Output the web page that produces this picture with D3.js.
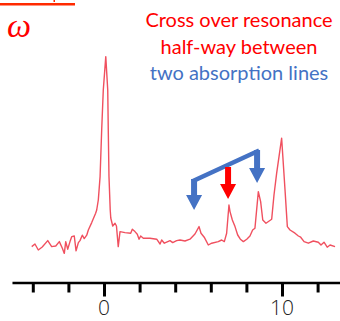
<!DOCTYPE html>
<html lang="en">
<head>
<meta charset="utf-8">
<title>Saturated absorption spectrum</title>
<style>
  * { margin: 0; padding: 0; box-sizing: border-box; }
  body { background: #fff; overflow: hidden; }
  svg { display: block; }
  .note { font-family: Lato, "Open Sans", sans-serif; font-size: 20px; text-anchor: middle; }
  .tick-label { font-family: "Open Sans", sans-serif; font-weight: 300; font-size: 21px; fill: #222; }
</style>
</head>
<body>
<svg id="chart" width="340" height="321"></svg>
<script src="https://cdn.jsdelivr.net/npm/d3@7"></script>
<script>
// spectrum, x in axis units, y in arbitrary intensity
const specX = [-4.06, -3.88, -3.69, -3.47, -3.16, -2.94, -2.71, -2.51, -2.34, -2.23, -2.15, -2.04, -1.91, -1.81,
  -1.67, -1.57, -1.44, -1.35, -1.22, -1.11, -0.97, -0.88, -0.69, -0.47, -0.41, -0.32, -0.22, -0.13, -0.04, 0.10,
  0.21, 0.24, 0.28, 0.35, 0.38, 0.49, 0.62, 0.70, 0.80, 0.90, 1.18, 1.50, 1.59, 1.74, 1.87, 1.97, 2.06, 2.21,
  2.58, 2.96, 3.15, 3.24, 3.39, 3.71, 3.86, 4.08, 4.27, 4.55, 4.83, 5.11, 5.34, 5.45, 5.63, 5.86, 6.05, 6.42,
  6.61, 6.76, 6.89, 7.02, 7.08, 7.21, 7.36, 7.51, 7.66, 7.83, 8.02, 8.20, 8.35, 8.48, 8.67, 8.80, 8.92, 9.10,
  9.42, 9.55, 9.70, 9.98, 10.17, 10.30, 10.45, 10.73, 10.92, 11.05, 11.24, 11.48, 11.76, 12.04, 12.19, 12.36,
  12.54, 12.70, 12.98];
const specY = [1.7, 3.0, 0.0, 1.5, 4.7, 1.7, 2.0, 4.2, 0.9, -1.7, 4.2, 0.4, 4.2, 6.7,
  7.0, -0.4, 3.7, 4.7, 7.4, 5.7, 7.4, 10.0, 13.7, 18.4, 20.0, 25.0, 36.7, 60.0, 80.0, 96.7,
  80.0, 60.0, 36.7, 20.0, 16.0, 12.0, 13.4, 12.0, 1.7, 9.2, 8.7, 8.4, 10.4, 9.2, 7.9, 5.4, 7.0, 5.9,
  5.9, 5.4, 3.0, 5.0, 3.4, 4.7, 3.7, 4.7, 5.0, 4.5, 5.4, 8.0, 11.7, 8.4, 6.4, 2.5, 3.4, 4.2,
  5.0, 4.2, 8.4, 22.5, 19.2, 15.0, 11.7, 7.5, 5.4, 4.2, 5.4, 7.0, 10.0, 10.9, 29.2, 24.2, 15.0, 13.4,
  15.4, 27.5, 38.4, 55.9, 30.0, 11.7, 10.0, 8.4, 7.0, 6.4, 4.2, 3.4, 4.5, 3.9, 2.5, 3.9,
  1.4, 2.5, 1.7];

const tickValues = [-4, -2, 0, 2, 4, 6, 8, 10, 12];
const majorTicks = [0, 10];

const noteLines = ["Cross over resonance", "half-way between", "two absorption lines"];
const noteColors = ["#ff0000", "#ff0000", "#4472c4"];

// arrows: x position, top of shaft and tip, in data units
const blueArrows = [{ x: 5.06, top: 35.5, tip: 20 }, { x: 8.6, top: 50, tip: 33.5 }];
const redArrow = { x: 6.97, top: 41.5, tip: 25.5 };

const svg = d3.select("#chart");

const x = d3.scaleLinear().domain([0, 10]).range([104, 282]);
const y = d3.scaleLinear().domain([0, 100]).range([250, 50]);

// top rule and omega
svg.append("rect").attr("x", 0).attr("y", 3).attr("width", 75).attr("height", 2.5).attr("fill", "#ff2a00");
svg.append("rect").attr("x", 53.5).attr("y", 0).attr("width", 1.5).attr("height", 2).attr("fill", "#ff2a00");
svg.append("text")
  .attr("x", 7).attr("y", 37)
  .attr("font-family", "'Liberation Serif', serif")
  .attr("font-style", "italic")
  .attr("font-size", 34)
  .attr("fill", "#ff0000")
  .text("\u03c9");

// annotation text
svg.append("g").selectAll("text")
  .data(noteLines).join("text")
  .attr("class", "note")
  .attr("x", 239)
  .attr("y", (d, i) => 27 + i * 26.5)
  .attr("fill", (d, i) => noteColors[i])
  .text(d => d);

// spectrum
const pts = specX.map((v, i) => [v, specY[i]]);
svg.append("path")
  .datum(pts)
  .attr("fill", "none")
  .attr("stroke", "#f0505f")
  .attr("stroke-width", 1.4)
  .attr("stroke-linejoin", "round")
  .attr("d", d3.line().x(d => x(d[0])).y(d => y(d[1])));

// axis
const axisScale = x.copy().domain([-5.17, 13.33]).range([x(-5.17), x(13.33)]);
const axis = svg.append("g")
  .attr("transform", "translate(0,282.5)")
  .call(d3.axisBottom(axisScale).tickValues(tickValues).tickSize(10).tickSizeOuter(0).tickFormat(""));
axis.select(".domain").attr("stroke", "#000").attr("stroke-width", 2.6);
axis.selectAll(".tick line")
  .attr("stroke", "#000")
  .attr("stroke-width", 3)
  .attr("y2", d => majorTicks.includes(d) ? 14 : 10);
axis.selectAll(".tick text").remove();
svg.append("g").selectAll("text")
  .data(majorTicks).join("text")
  .attr("class", "tick-label")
  .attr("x", d => x(d))
  .attr("y", 315)
  .attr("text-anchor", "middle")
  .text(d => d);

// arrows
function arrowPath(a) {
  const cx = x(a.x), t = y(a.top), tip = y(a.tip);
  const headLen = 15, shaft = 3, head = 8;
  const hb = tip - headLen;
  return `M${cx - shaft},${t}L${cx + shaft},${t}L${cx + shaft},${hb}L${cx + head},${hb}` +
    `L${cx},${tip}L${cx - head},${hb}L${cx - shaft},${hb}Z`;
}

svg.append("line")
  .attr("x1", x(blueArrows[0].x)).attr("y1", y(blueArrows[0].top) + 1.5)
  .attr("x2", x(blueArrows[1].x)).attr("y2", y(blueArrows[1].top) + 1.5)
  .attr("stroke", "#4472c4")
  .attr("stroke-width", 4.5)
  .attr("stroke-linecap", "square");

svg.append("g").selectAll("path")
  .data(blueArrows).join("path")
  .attr("fill", "#4472c4")
  .attr("d", arrowPath);

svg.append("path").attr("fill", "#ff0000").attr("d", arrowPath(redArrow));
</script>
</body>
</html>
